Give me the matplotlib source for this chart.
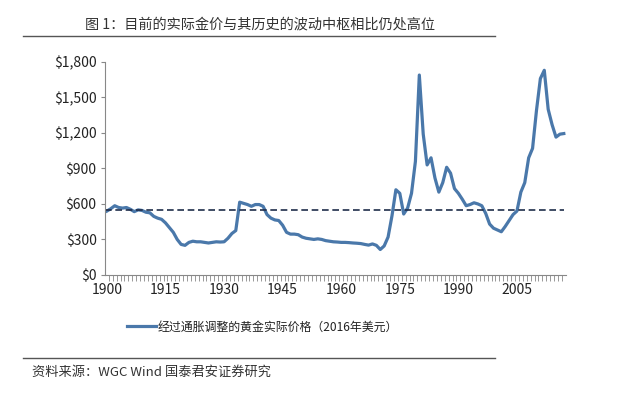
import matplotlib
matplotlib.use('Agg')
import matplotlib.pyplot as plt
from matplotlib.lines import Line2D
import numpy as np

plt.rcParams['font.family'] = ['Noto Sans CJK SC', 'DejaVu Sans']

years = np.arange(1900, 2018)
price = [540, 560, 585, 570, 565, 570, 555, 535, 550, 545,
         530, 525, 495, 480, 470, 440, 400, 360, 300, 258,
         250, 275, 285, 280, 280, 275, 270, 275, 280, 278,
         280, 310, 350, 375, 615, 605, 595, 580, 595, 595,
         580, 510, 480, 465, 460, 420, 360, 345, 345, 340,
         320, 310, 305, 300, 305, 300, 290, 285, 280, 278,
         275, 275, 273, 270, 268, 265, 258, 252, 262, 250,
         215, 245, 320, 500, 720, 690, 515, 565, 690, 960,
         1690, 1190, 930, 990, 820, 700, 780, 910, 860, 730,
         690, 640, 585, 595, 610, 600, 585, 520, 430, 395,
         380, 365, 410, 460, 510, 540, 700, 780, 990, 1070,
         1390, 1660, 1730, 1400, 1270, 1165, 1190, 1195]
mean_price = 550

yticks = [0, 300, 600, 900, 1200, 1500, 1800]
ytick_labels = ['$0', '$300', '$600', '$900', '$1,200', '$1,500', '$1,800']
xticks = [1900, 1915, 1930, 1945, 1960, 1975, 1990, 2005]

title = '图 1：目前的实际金价与其历史的波动中枢相比仍处高位'
legend_label = '经过通胀调整的黄金实际价格（2016年美元）'
source = '资料来源：WGC Wind 国泰君安证券研究'

fig = plt.figure(figsize=(6.4, 3.95), dpi=100)
fig.patch.set_facecolor('white')
ax = fig.add_axes([0.164, 0.304, 0.72, 0.539])

ax.plot(years, price, color='#4a78aa', lw=2.3, solid_joinstyle='round',
        label=legend_label)
ax.hlines(mean_price, years[0] - 0.5, years[-1], colors='#1f2d4a',
          linestyles=(0, (4, 2.2)), lw=1.2)

ax.set_xlim(years[0] - 0.5, years[-1] + 0.5)
ax.set_ylim(0, 1800)

# y axis
ax.set_yticks(yticks)
ax.set_yticklabels(ytick_labels)
ax.tick_params(axis='y', length=3, width=0.8, color='#888888',
               labelsize=10, labelcolor='#222222', pad=3)

# x axis: labels every 15 years, a small tick between every year
ax.set_xticks(xticks)
ax.set_xticklabels([str(x) for x in xticks])
ax.set_xticks(years[:-1] + 0.5, minor=True)
ax.tick_params(axis='x', which='major', length=0, labelsize=10,
               labelcolor='#222222', pad=6)
ax.tick_params(axis='x', which='minor', length=4, width=0.6, color='#888888')

for s in ['top', 'right']:
    ax.spines[s].set_visible(False)
for s in ['left', 'bottom']:
    ax.spines[s].set_color('#888888')
    ax.spines[s].set_linewidth(0.8)

ax.legend(loc='center', bbox_to_anchor=(0.41, 0.172), bbox_transform=fig.transFigure,
          frameon=False, fontsize=8.6, handlelength=2.4, handletextpad=0.1,
          labelcolor='#222222')

# title and source with rules
fig.text(0.406, 0.937, title, ha='center', va='center', fontsize=10.2, color='#333333')
fig.add_artist(Line2D([0.036, 0.773], [0.909, 0.909], color='#555555', lw=1.0,
                      transform=fig.transFigure))
fig.add_artist(Line2D([0.036, 0.773], [0.094, 0.094], color='#555555', lw=1.0,
                      transform=fig.transFigure))
fig.text(0.05, 0.058, source, ha='left', va='center', fontsize=9.5, color='#333333')

fig.savefig('out.png', dpi=100, facecolor='white')
